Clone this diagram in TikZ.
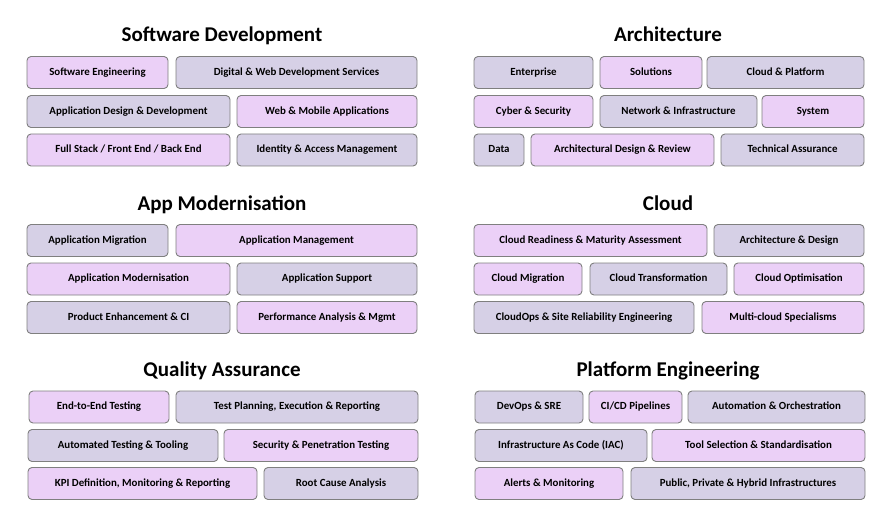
\documentclass[tikz,border=0pt]{standalone}
\usepackage{fontspec}
\setmainfont{Carlito}
\usetikzlibrary{positioning}

\definecolor{lilac}{HTML}{EBD0F7}
\definecolor{haze}{HTML}{D6D0E6}
\definecolor{edge}{HTML}{7F7F7F}

\begin{document}
\begin{tikzpicture}[x=1pt,y=-1pt,
    cell/.style={draw=edge,line width=0.9pt,rounded corners=4pt,
                 minimum height=32pt,inner sep=0pt,
                 text height=7.6pt,text depth=2.4pt,
                 font=\fontsize{10.9}{12}\selectfont\bfseries},
    pcell/.style={cell,fill=lilac},
    gcell/.style={cell,fill=haze},
    heading/.style={anchor=base,inner sep=0pt,
                    font=\fontsize{21}{24}\selectfont\bfseries}]
  \useasboundingbox (0,0) rectangle (886,505);

  % Software Development
  \node[heading] (sd) at (222,42) {Software Development};
  \node[pcell,minimum width=141pt] (se)  at (97.5,72.5)  {Software Engineering};
  \node[gcell,minimum width=241pt] (dw)  at (296.5,72.5) {Digital \& Web Development Services};
  \node[gcell,minimum width=203pt] (ad)  at (128.5,111.5) {Application Design \& Development};
  \node[pcell,minimum width=180pt] (wm)  at (327,111.5)  {Web \& Mobile Applications};
  \node[pcell,minimum width=203pt] (fs)  at (128.5,150)  {Full Stack / Front End / Back End};
  \node[gcell,minimum width=180pt] (iam) at (327,150)    {Identity \& Access Management};

  % Architecture
  \node[heading] (arch) at (668,42) {Architecture};
  \node[gcell,minimum width=119pt] (ent)  at (533.5,72.5) {Enterprise};
  \node[pcell,minimum width=102pt] (sol)  at (651,72.5)   {Solutions};
  \node[gcell,minimum width=157pt] (cp)   at (785.5,72.5) {Cloud \& Platform};
  \node[pcell,minimum width=119pt] (cs)   at (533.5,111.5) {Cyber \& Security};
  \node[gcell,minimum width=157pt] (ni)   at (678.5,111.5) {Network \& Infrastructure};
  \node[pcell,minimum width=102pt] (sys)  at (813,111.5)  {System};
  \node[gcell,minimum width=50pt]  (data) at (499,150)    {Data};
  \node[pcell,minimum width=183pt] (adr)  at (622.5,150)  {Architectural Design \& Review};
  \node[gcell,minimum width=143pt] (ta)   at (792.5,150)  {Technical Assurance};

  % App Modernisation
  \node[heading] (am) at (222,211) {App Modernisation};
  \node[gcell,minimum width=141pt] (amig) at (97.5,240.5)  {Application Migration};
  \node[pcell,minimum width=241pt] (amgt) at (296.5,240.5) {Application Management};
  \node[pcell,minimum width=203pt] (amod) at (128.5,279)   {Application Modernisation};
  \node[gcell,minimum width=180pt] (asup) at (327,279)     {Application Support};
  \node[gcell,minimum width=203pt] (pe)   at (128.5,317.5) {Product Enhancement \& CI};
  \node[pcell,minimum width=180pt] (pa)   at (327,317.5)   {Performance Analysis \& Mgmt};

  % Cloud
  \node[heading] (cl) at (668,211) {Cloud};
  \node[pcell,minimum width=233pt] (crm) at (590.5,240.5) {Cloud Readiness \& Maturity Assessment};
  \node[gcell,minimum width=150pt] (aad) at (789,240.5)   {Architecture \& Design};
  \node[pcell,minimum width=108pt] (cm)  at (528,279)     {Cloud Migration};
  \node[gcell,minimum width=137pt] (ct)  at (658.5,279)   {Cloud Transformation};
  \node[pcell,minimum width=130pt] (co)  at (799,279)     {Cloud Optimisation};
  \node[gcell,minimum width=220pt] (sre) at (584,317.5)   {CloudOps \& Site Reliability Engineering};
  \node[pcell,minimum width=162pt] (mc)  at (783,317.5)   {Multi-cloud Specialisms};

  % Quality Assurance
  \node[heading] (qa) at (222,376) {Quality Assurance};
  \node[pcell,minimum width=140pt] (e2e) at (99,407)     {End-to-End Testing};
  \node[gcell,minimum width=242pt] (tp)  at (297,407)    {Test Planning, Execution \& Reporting};
  \node[gcell,minimum width=190pt] (at)  at (123,445.5)  {Automated Testing \& Tooling};
  \node[pcell,minimum width=194pt] (sp)  at (321,445.5)  {Security \& Penetration Testing};
  \node[pcell,minimum width=229pt] (kpi) at (142.5,483.5) {KPI Definition, Monitoring \& Reporting};
  \node[gcell,minimum width=154pt] (rca) at (341,483.5)  {Root Cause Analysis};

  % Platform Engineering
  \node[heading] (pen) at (668,376) {Platform Engineering};
  \node[gcell,minimum width=108pt] (dev)  at (529,407)    {DevOps \& SRE};
  \node[pcell,minimum width=93pt]  (cicd) at (635.5,407)  {CI/CD Pipelines};
  \node[gcell,minimum width=177pt] (ao)   at (776.5,407)  {Automation \& Orchestration};
  \node[gcell,minimum width=172pt] (iac)  at (561,445.5)  {Infrastructure As Code (IAC)};
  \node[pcell,minimum width=213pt] (ts)   at (758.5,445.5) {Tool Selection \& Standardisation};
  \node[pcell,minimum width=148pt] (alm)  at (549,483.5)  {Alerts \& Monitoring};
  \node[gcell,minimum width=234pt] (pph)  at (748,483.5)  {Public, Private \& Hybrid Infrastructures};
\end{tikzpicture}
\end{document}
